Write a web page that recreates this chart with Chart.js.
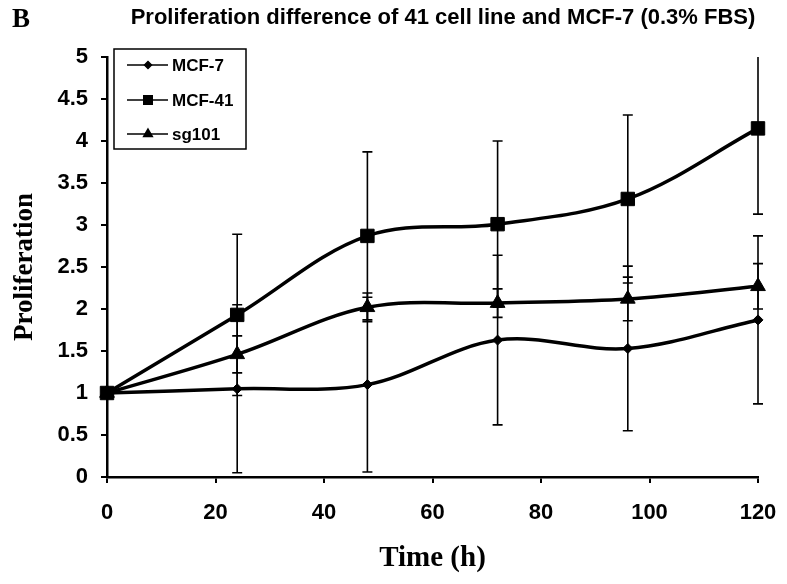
<!DOCTYPE html>
<html>
<head>
<meta charset="utf-8">
<script src="https://cdn.jsdelivr.net/npm/chart.js@4"></script>
<style>
  html, body { margin: 0; padding: 0; background: #fff; }
  #wrap { width: 787px; height: 584px; }
</style>
</head>
<body>
<div id="wrap"><canvas id="chartProlif"></canvas></div>
<script>
// data
const timeH = [0, 24, 48, 72, 96, 120];
const mcf7 = [1, 1.05, 1.1, 1.63, 1.53, 1.87];
const mcf41 = [1, 1.93, 2.87, 3.01, 3.31, 4.15];
const sg101 = [1, 1.46, 2.02, 2.07, 2.12, 2.27];

// error bars (+/-)
const mcf7Err = [0, 1.0, 1.04, 1.01, 0.98, 1.0];
const mcf41Err = [0, 0.96, 1.0, 0.99, 1.0, 1.02];
const sg101Err = [0, 0.22, 0.17, 0.17, 0.26, 0.27];

const seriesNames = ["MCF-7", "MCF-41", "sg101"];
const chartTitle = "Proliferation difference of 41 cell line and MCF-7 (0.3% FBS)";

const toPoints = (ys) => timeH.map((t, i) => ({ x: t, y: ys[i] }));

Chart.defaults.font.family = "'Liberation Sans', Arial, sans-serif";
Chart.defaults.font.weight = "bold";
Chart.defaults.color = "#000";

function makeSet(label, ys, errs, style, radius) {
    return {
        label: label,
        data: toPoints(ys),
        errors: errs,
        borderColor: "#000",
        backgroundColor: "#000",
        borderWidth: 3.5,
        pointStyle: style,
        pointRadius: radius,
        pointBorderWidth: 1,
        tension: 0.35,
        fill: false,
        clip: false,
    };
}

// whiskers drawn through the scales (only clipped at top / bottom)
const errorBars = {
    id: "errorBars",
    beforeDatasetsDraw(chart) {
        const { ctx, chartArea, scales } = chart;
        ctx.save();
        ctx.beginPath();
        ctx.rect(0, chartArea.top, chart.width, chartArea.bottom - chartArea.top);
        ctx.clip();
        ctx.strokeStyle = "#000";
        ctx.lineWidth = 1.6;
        chart.data.datasets.forEach((ds) => {
            ds.data.forEach((p, i) => {
                const e = ds.errors[i];
                if (!e) return;
                const x = scales.x.getPixelForValue(p.x);
                const yHi = scales.y.getPixelForValue(p.y + e);
                const yLo = scales.y.getPixelForValue(p.y - e);
                ctx.beginPath();
                ctx.moveTo(x, yHi); ctx.lineTo(x, yLo);
                ctx.moveTo(x - 5, yHi); ctx.lineTo(x + 5, yHi);
                ctx.moveTo(x - 5, yLo); ctx.lineTo(x + 5, yLo);
                ctx.stroke();
            });
        });
        ctx.restore();
    }
};

// title, panel letter and boxed legend
const decorations = {
    id: "decorations",
    afterDraw(chart) {
        const ctx = chart.ctx;
        ctx.save();
        ctx.fillStyle = "#000";
        ctx.textBaseline = "middle";

        ctx.font = "bold 27px 'Liberation Serif', 'Times New Roman', serif";
        ctx.textAlign = "left";
        ctx.fillText("B", 12, 20);

        ctx.font = "bold 22px 'Liberation Sans', Arial, sans-serif";
        ctx.textAlign = "center";
        ctx.fillText(chartTitle, 443, 18);

        // legend box
        ctx.strokeStyle = "#000";
        ctx.lineWidth = 1.5;
        ctx.strokeRect(114, 49, 132, 100);
        const rows = [65, 100, 134];
        const legendRadius = [3.5, 6, 5];
        ctx.font = "bold 17px 'Liberation Sans', Arial, sans-serif";
        ctx.textAlign = "left";
        chart.data.datasets.forEach((ds, i) => {
            const y = rows[i];
            ctx.lineWidth = 1.5;
            ctx.beginPath();
            ctx.moveTo(127, y); ctx.lineTo(168, y);
            ctx.stroke();
            ctx.fillStyle = "#000";
            Chart.helpers.drawPoint(ctx, { pointStyle: ds.pointStyle, radius: legendRadius[i], borderWidth: 1 }, 148, y);
            ctx.fillText(ds.label, 172, y + 1);
        });
        ctx.restore();
    }
};

const config = {
    type: "line",
    data: {
        datasets: [
            makeSet(seriesNames[0], mcf7, mcf7Err, "rectRot", 5),
            makeSet(seriesNames[1], mcf41, mcf41Err, "rect", 9.5),
            makeSet(seriesNames[2], sg101, sg101Err, "triangle", 8.5),
        ],
    },
    options: {
        responsive: true,
        maintainAspectRatio: false,
        animation: false,
        layout: { padding: { top: 57, right: 29, left: 0, bottom: 0 } },
        plugins: {
            legend: { display: false },
            title: { display: false },
            tooltip: { enabled: false },
        },
        scales: {
            x: {
                type: "linear",
                min: 0,
                max: 120,
                ticks: { stepSize: 20, padding: 17, font: { size: 22, weight: "bold" }, color: "#000" },
                grid: { drawOnChartArea: false, drawTicks: true, tickLength: 6, color: "#000", lineWidth: 2 },
                border: { color: "#000", width: 2.5 },
                title: {
                    display: true,
                    text: "Time (h)",
                    font: { family: "'Liberation Serif', 'Times New Roman', serif", size: 29, weight: "bold" },
                    color: "#000",
                    padding: { top: 0, bottom: 8 },
                },
                afterFit(scale) {
                    scale.height = 107;
                    scale.paddingLeft = 0;
                    scale.paddingRight = 0;
                },
            },
            y: {
                min: 0,
                max: 5,
                ticks: {
                    stepSize: 0.5,
                    padding: 13,
                    font: { size: 22, weight: "bold" },
                    color: "#000",
                    callback: (v) => String(v),
                },
                grid: { drawOnChartArea: false, drawTicks: true, tickLength: 6, color: "#000", lineWidth: 2 },
                border: { color: "#000", width: 2.5 },
                title: {
                    display: true,
                    text: "Proliferation",
                    font: { family: "'Liberation Serif', 'Times New Roman', serif", size: 27, weight: "bold" },
                    color: "#000",
                    padding: { top: 9, bottom: 0 },
                },
                afterFit(scale) { scale.width = 107; },
            },
        },
    },
    plugins: [errorBars, decorations],
};

var chartProlif = new Chart(document.getElementById("chartProlif"), config);
</script>
</body>
</html>
